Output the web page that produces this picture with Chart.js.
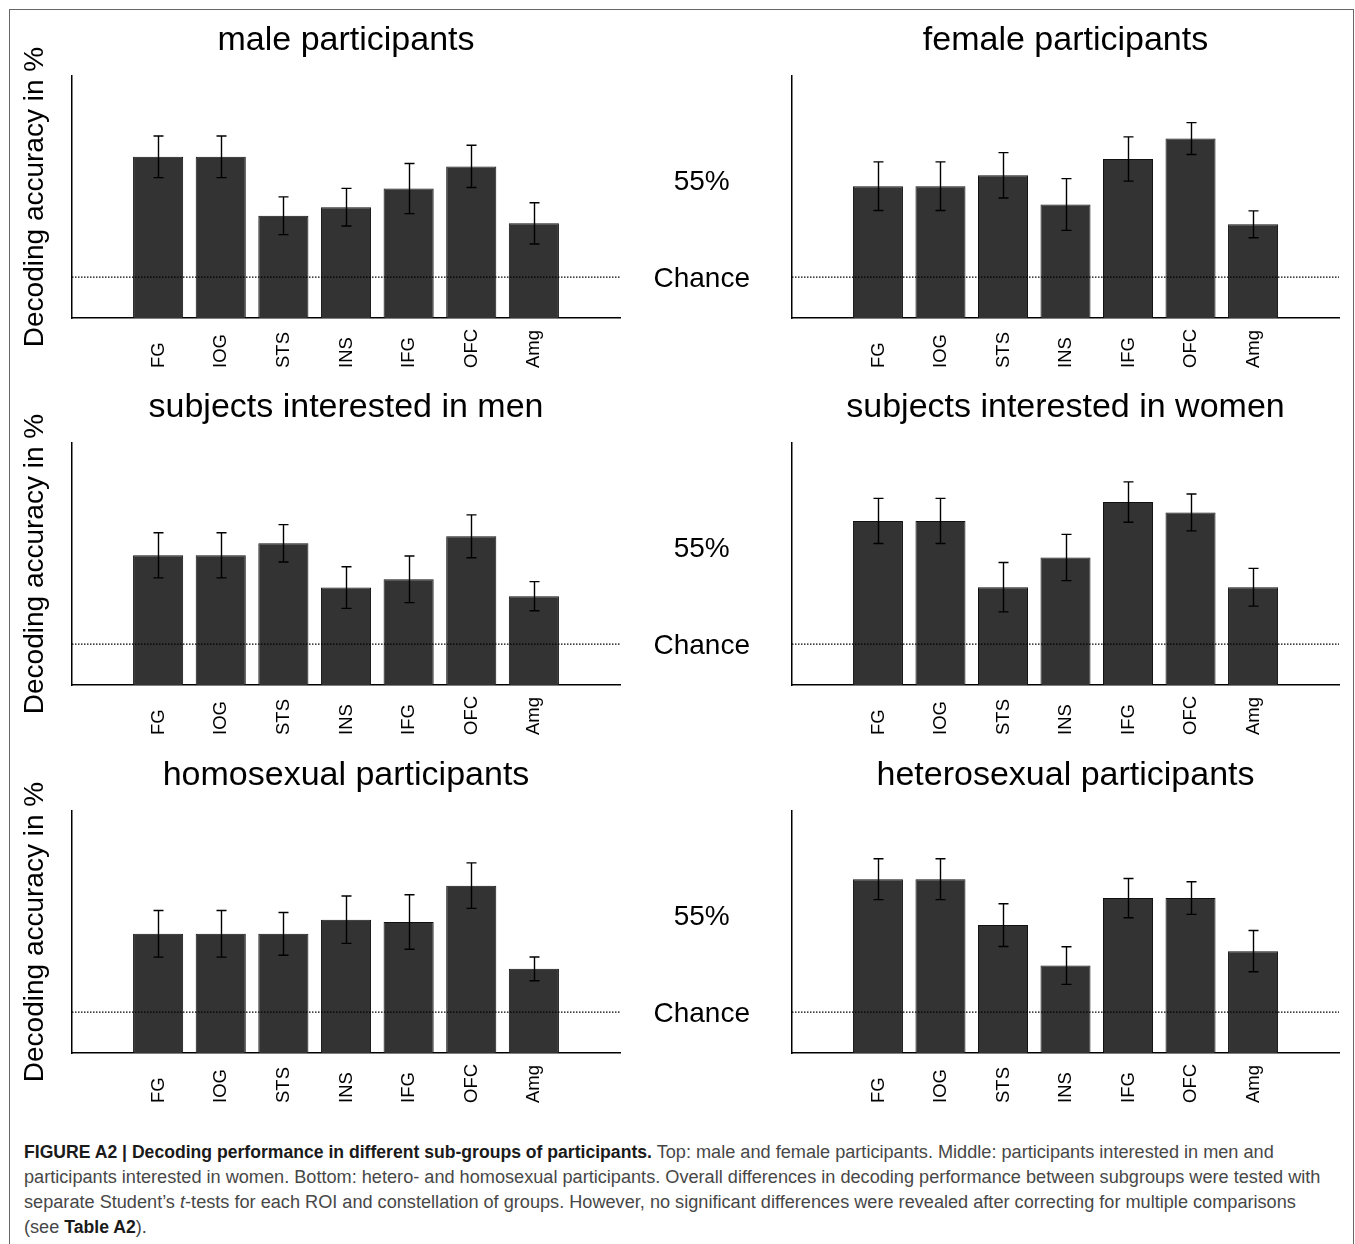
<!DOCTYPE html>
<html>
<head>
<meta charset="utf-8">
<script src="https://cdn.jsdelivr.net/npm/chart.js@4.4.1/dist/chart.umd.min.js"></script>
<style>
  html, body { margin: 0; padding: 0; background: #fff; }
  body { width: 1355px; height: 1244px; position: relative; overflow: hidden; }
  #frame { position: absolute; left: 9px; top: 9px; width: 1345px; height: 1300px;
           border: 1.5px solid #666; box-sizing: border-box; }
  canvas { position: absolute; }
  #caption { position: absolute; left: 24px; top: 1140px; width: 1320px;
             font-family: "Liberation Sans", Arial, sans-serif; font-size: 18.15px;
             line-height: 25px; color: #474747; white-space: nowrap; }
  #caption b { color: #1a1a1a; font-size: 17.6px; }
</style>
</head>
<body>
<div id="frame"></div>
<canvas id="c0" width="620" height="367" style="left:12px;top:12px"></canvas>
<canvas id="c1" width="705" height="367" style="left:640px;top:12px"></canvas>
<canvas id="c2" width="620" height="367" style="left:12px;top:379px"></canvas>
<canvas id="c3" width="705" height="367" style="left:640px;top:379px"></canvas>
<canvas id="c4" width="620" height="367" style="left:12px;top:747px"></canvas>
<canvas id="c5" width="705" height="367" style="left:640px;top:747px"></canvas>
<div id="caption"><b>FIGURE A2 | Decoding performance in different sub-groups of participants.</b> Top: male and female participants. Middle: participants interested in men and<br>participants interested in women. Bottom: hetero- and homosexual participants. Overall differences in decoding performance between subgroups were tested with<br>separate Student’s <i>t</i>-tests for each ROI and constellation of groups. However, no significant differences were revealed after correcting for multiple comparisons<br>(see <b>Table A2</b>).</div>
<script>
// Regions of interest (x categories)
const regions = ['FG', 'IOG', 'STS', 'INS', 'IFG', 'OFC', 'Amg'];

// Chance level and the two labelled y positions
const chanceLevel = 50;
const axisTickValues = [50, 55];
const axisTickLabels = ['Chance', '55%'];

// Mean decoding accuracy (%) and standard error per sub-group
const maleMean   = [56.19, 56.19, 53.16, 53.60, 54.56, 55.70, 52.77];
const maleSem    = [1.07, 1.07, 0.97, 0.97, 1.29, 1.09, 1.06];
const femaleMean = [54.68, 54.68, 55.24, 53.74, 56.08, 57.13, 52.72];
const femaleSem  = [1.25, 1.25, 1.17, 1.33, 1.14, 0.82, 0.69];
const menMean    = [54.57, 54.57, 55.19, 52.91, 53.34, 55.55, 52.47];
const menSem     = [1.16, 1.16, 0.96, 1.07, 1.20, 1.10, 0.75];
const womenMean  = [56.34, 56.34, 52.93, 54.46, 57.31, 56.78, 52.93];
const womenSem   = [1.16, 1.16, 1.27, 1.19, 1.04, 0.95, 0.97];
const homoMean   = [54.03, 54.03, 54.03, 54.76, 54.64, 56.51, 52.23];
const homoSem    = [1.20, 1.20, 1.10, 1.22, 1.40, 1.17, 0.61];
const heteroMean = [56.84, 56.84, 54.48, 52.40, 55.87, 55.87, 53.14];
const heteroSem  = [1.05, 1.05, 1.10, 0.97, 1.01, 0.84, 1.06];

const panelTitles = [
  'male participants', 'female participants',
  'subjects interested in men', 'subjects interested in women',
  'homosexual participants', 'heterosexual participants'
];

const panels = [
  { canvas: 'c0', side: 'left',  title: panelTitles[0], mean: maleMean,   sem: maleSem },
  { canvas: 'c1', side: 'right', title: panelTitles[1], mean: femaleMean, sem: femaleSem },
  { canvas: 'c2', side: 'left',  title: panelTitles[2], mean: menMean,    sem: menSem },
  { canvas: 'c3', side: 'right', title: panelTitles[3], mean: womenMean,  sem: womenSem },
  { canvas: 'c4', side: 'left',  title: panelTitles[4], mean: homoMean,   sem: homoSem },
  { canvas: 'c5', side: 'right', title: panelTitles[5], mean: heteroMean, sem: heteroSem }
];

const FONT = '"Liberation Sans", Arial, Helvetica, sans-serif';
Chart.defaults.font.family = FONT;
Chart.defaults.color = '#000';

const X_MIN = -0.375, X_MAX = 8.375;
const Y_MIN = 47.9, Y_MAX = 60.35;

// Whiskers: mean ± SEM with short caps, drawn on top of the bars
const errorBars = {
  id: 'errorBars',
  afterDatasetsDraw(chart, args, opts) {
    const ys = chart.scales.y;
    const idx = chart.data.datasets.findIndex(d => d.type === 'bar');
    const meta = chart.getDatasetMeta(idx);
    const ctx = chart.ctx;
    ctx.save();
    ctx.strokeStyle = '#000';
    ctx.lineWidth = 1.4;
    meta.data.forEach((el, i) => {
      const x = Math.round(el.x) + 0.5;
      const top = ys.getPixelForValue(opts.mean[i] + opts.sem[i]);
      const bot = ys.getPixelForValue(opts.mean[i] - opts.sem[i]);
      const cap = 5;
      ctx.beginPath();
      ctx.moveTo(x, top); ctx.lineTo(x, bot);
      ctx.moveTo(x - cap, top); ctx.lineTo(x + cap, top);
      ctx.moveTo(x - cap, bot); ctx.lineTo(x + cap, bot);
      ctx.stroke();
    });
    ctx.restore();
  }
};

// Region names, rotated and aligned at their start below the axis
const regionLabels = {
  id: 'regionLabels',
  afterDraw(chart) {
    const xs = chart.scales.x;
    const ctx = chart.ctx;
    ctx.save();
    ctx.font = '18.5px ' + FONT;
    ctx.fillStyle = '#000';
    ctx.textAlign = 'left';
    ctx.textBaseline = 'middle';
    xs.ticks.forEach(t => {
      const x = xs.getPixelForValue(t.value);
      ctx.save();
      ctx.translate(x + 0.5, chart.chartArea.bottom + 50);
      ctx.rotate(-Math.PI / 2);
      ctx.fillText(regions[t.value - 1], 0, 0);
      ctx.restore();
    });
    ctx.restore();
  }
};

panels.forEach(p => {
  const left = p.side === 'left';
  new Chart(document.getElementById(p.canvas), {
    data: {
      datasets: [
        {
          type: 'line',
          order: 0,
          data: [{ x: X_MIN, y: chanceLevel }, { x: X_MAX, y: chanceLevel }],
          borderColor: '#000',
          borderWidth: 1.2,
          borderDash: [1.5, 1.5],
          pointRadius: 0,
          fill: false
        },
        {
          type: 'bar',
          order: 1,
          data: regions.map((r, i) => ({ x: i + 1, y: p.mean[i] })),
          backgroundColor: '#333333',
          borderColor: '#111111',
          borderWidth: 1,
          barPercentage: 0.8,
          categoryPercentage: 1.0
        }
      ]
    },
    options: {
      responsive: false,
      animation: false,
      events: [],
      layout: { padding: { left: 0, right: left ? 12 : 6, top: 0, bottom: 0 } },
      plugins: {
        legend: { display: false },
        tooltip: { enabled: false },
        title: {
          display: true,
          text: p.title,
          fullSize: false,
          color: '#000',
          font: { size: 34, weight: 'normal' },
          padding: { top: 7.8, bottom: 15.4 }
        },
        errorBars: { mean: p.mean, sem: p.sem }
      },
      scales: {
        x: {
          type: 'linear',
          min: X_MIN,
          max: X_MAX,
          offset: false,
          afterBuildTicks: s => { s.ticks = regions.map((r, i) => ({ value: i + 1 })); },
          afterFit: s => { s.height = 61; },
          grid: { display: false, drawTicks: false },
          border: { display: true, color: '#000', width: 1.5 },
          ticks: { display: false }
        },
        y: {
          type: 'linear',
          min: Y_MIN,
          max: Y_MAX,
          afterBuildTicks: s => { s.ticks = axisTickValues.map(v => ({ value: v })); },
          afterFit: s => { s.width = left ? 60 : 152; },
          grid: { display: false, drawTicks: false },
          border: { display: true, color: '#000', width: 1.5 },
          ticks: {
            display: !left,
            crossAlign: 'center',
            padding: 42,
            labelOffset: 2,
            color: '#000',
            font: { size: 28 },
            callback: v => axisTickLabels[axisTickValues.indexOf(v)]
          },
          title: {
            display: left,
            text: 'Decoding accuracy in %',
            color: '#000',
            font: { size: 28 },
            padding: { top: 6, bottom: 0 }
          }
        }
      }
    },
    plugins: [errorBars, regionLabels]
  });
});
</script>
</body>
</html>
